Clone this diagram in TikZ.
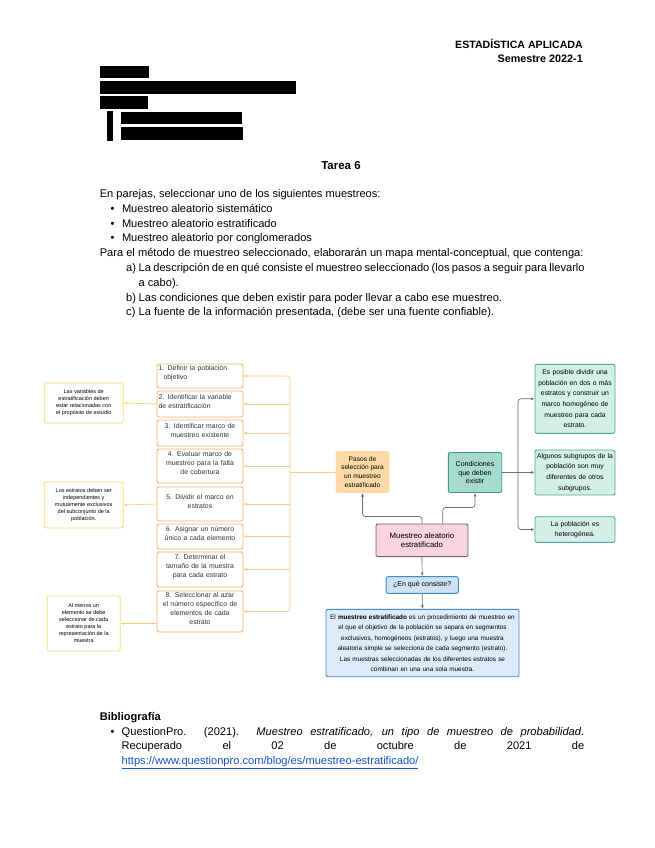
\documentclass[tikz,border=0pt]{standalone}
\usepackage{fontspec}
\setmainfont{Liberation Sans}
\usetikzlibrary{arrows.meta}

\definecolor{stepline}{HTML}{F6B26B}
\definecolor{steplink}{HTML}{F9C98E}
\definecolor{notebord}{HTML}{FFD966}
\definecolor{notelink}{HTML}{F8CF78}
\definecolor{pasosfill}{HTML}{FDDAA5}
\definecolor{pinkfill}{HTML}{F9D3DE}
\definecolor{pinkbord}{HTML}{666666}
\definecolor{condfill}{HTML}{A5DBCD}
\definecolor{condbord}{HTML}{3E9C84}
\definecolor{rfill}{HTML}{D3EFE8}
\definecolor{rbord}{HTML}{4FAA92}
\definecolor{enqfill}{HTML}{CFE2F3}
\definecolor{descfill}{HTML}{DDEBF8}
\definecolor{bluebord}{HTML}{3D8BD0}
\definecolor{graylink}{HTML}{6E6E6E}
\definecolor{linkblue}{HTML}{1155CC}
\definecolor{boxtext}{HTML}{333333}

\newcommand{\fsz}[2]{\fontsize{#1}{#2}\selectfont}

\begin{document}
\begin{tikzpicture}[x=1pt, y=-1pt,
        bodytxt/.style={inner sep=0pt, font=\fsz{11.1}{14.8}},
        stepC/.style={draw=stepline, fill=white, line width=0.9pt, rounded corners=2pt,
          minimum width=86, text width=83, align=center, inner sep=1pt,
          text=boxtext, font=\fsz{6.9}{9}},
        stepL/.style={stepC, align=left},
        notebox/.style={draw=notebord, fill=white, line width=0.9pt, rounded corners=2pt,
          align=center, inner sep=1pt, font=\fsz{5.5}{7}},
        rbox/.style={draw=rbord, fill=rfill, line width=0.9pt, rounded corners=2pt,
          minimum width=80, text width=78, align=center, inner sep=1pt, font=\fsz{6.8}{10.6}},
        olink/.style={draw=steplink, line width=0.7pt},
        ylink/.style={draw=notelink, line width=0.7pt},
        glink/.style={draw=graylink, line width=0.7pt},
        >={Latex[length=3.5pt,width=3pt]}
        ]
        \useasboundingbox (0,0) rectangle (655,848);
        \fill[white] (0,0) rectangle (655,848);

        % header
        \node[anchor=base east, inner sep=0pt, font=\fsz{10.6}{12}\bfseries] (curso) at (583,48.5) {ESTADÍSTICA APLICADA};
        \node[anchor=base east, inner sep=0pt, font=\fsz{10.8}{12}\bfseries] (sem) at (583,62.5) {Semestre 2022-1};

        % hidden names
        \fill (99.6,66) rectangle (148.6,78.3);
        \fill (99.6,81) rectangle (296.4,94);
        \fill (99.6,96.3) rectangle (147.5,109.3);
        \fill (106.8,111) rectangle (113,141);
        \fill (121,112.3) rectangle (241.8,124);
        \fill (121,127) rectangle (243.2,140.3);

        \node[bodytxt, anchor=base, font=\fsz{11.5}{14.8}\bfseries] (tarea) at (341,169) {Tarea 6};

        \node[bodytxt, anchor=base west] (intro) at (99.6,197.5) {En parejas, seleccionar uno de los siguientes muestreos:};
        \foreach \k/\t in {0/{Muestreo aleatorio sistemático},1/{Muestreo aleatorio estratificado},2/{Muestreo aleatorio por conglomerados}} {
          \node[bodytxt, anchor=base] (dot\k) at (112.5,212.3+14.8*\k) {\textbullet};
          \node[bodytxt, anchor=base west] (m\k) at (121.8,212.3+14.8*\k) {\t};
        }
        \node[bodytxt, anchor=base west] (para) at (99.6,256.7) {Para el método de muestreo seleccionado, elaborarán un mapa mental-conceptual, que contenga:};
        \node[bodytxt, anchor=base west] (la) at (126,271.5) {a)};
        \node[bodytxt, anchor=base west] (ta) at (138.5,271.5) {\makebox[446pt][s]{La descripción de en qué consiste el muestreo seleccionado (los pasos a seguir para llevarlo}};
        \node[bodytxt, anchor=base west] (ta2) at (138.5,286.3) {a cabo).};
        \node[bodytxt, anchor=base west] (lb) at (126,301.1) {b)};
        \node[bodytxt, anchor=base west] (tb) at (138.5,301.1) {Las condiciones que deben existir para poder llevar a cabo ese muestreo.};
        \node[bodytxt, anchor=base west] (lc) at (126,315.9) {c)};
        \node[bodytxt, anchor=base west] (tc) at (138.5,315.9) {La fuente de la información presentada, (debe ser una fuente confiable).};

        % pasos
        \foreach \n/\yc/\ht/\sty/\txt in {
            1/376/24/L/{1. Definir la población\\\hspace*{5pt}objetivo},
            2/404/26/L/{2. Identificar la variable\\de estratificación},
            3/433/26/C/{3. Identificar marco de\\muestreo existente},
            4/466/34/C/{4. Evaluar marco de\\muestreo para la falta\\de cobertura},
            5/504/34/C/{5. Dividir el marco en\\estratos},
            6/536.5/25/C/{6. Asignar un número\\único a cada elemento},
            7/569.5/35/C/{7. Determinar el\\tamaño de la muestra\\para cada estrato},
            8/611.5/41/C/{8. Seleccionar al azar\\el número específico de\\elementos de cada\\estrato}} {
          \node[step\sty, minimum height=\ht] (s\n) at (200,\yc) {\txt};
        }

        \node[notebox, minimum width=79, minimum height=40] (notaA) at (83.7,403) {Las variables de\\estratificación deben\\estar relacionadas con\\el propósito de estudio};
        \node[notebox, minimum width=79, minimum height=46] (notaB) at (83.7,505) {Los estratos deben ser\\independientes y\\mutuamente exclusivos\\del subconjunto de la\\población.};
        \node[notebox, minimum width=73, minimum height=55] (notaC) at (83.7,623.5) {Al menos un\\elemento se debe\\seleccionar de cada\\estrato para la\\representación de la\\muestra};

        \node[fill=pasosfill, rounded corners=2pt, minimum width=53.6, minimum height=41.7, align=center, inner sep=1pt, font=\fsz{6.6}{8.8}] (pasos) at (362.5,472) {Pasos de\\selección para\\un muestreo\\estratificado};
        \node[draw=pinkbord, fill=pinkfill, line width=0.9pt, rounded corners=2pt, minimum width=92, minimum height=32.7, align=center, inner sep=1pt, font=\fsz{7.8}{9}] (pink) at (422,540.3) {Muestreo aleatorio\\estratificado};
        \node[draw=condbord, fill=condfill, line width=0.9pt, rounded corners=2pt, minimum width=53.4, minimum height=40, align=center, inner sep=1pt, font=\fsz{7}{8.8}] (cond) at (475,472.5) {Condiciones\\que deben\\existir};

        \node[rbox, minimum height=69] (r1) at (575,398.8) {Es posible dividir una\\población en dos o más\\estratos y construir un\\marco homogéneo de\\muestreo para cada\\estrato.};
        \node[rbox, minimum height=45] (r2) at (575,472.5) {Algunos subgrupos de la\\población son muy\\diferentes de otros\\subgrupos.};
        \node[rbox, minimum height=25.6] (r3) at (575,529.5) {La población es\\heterogénea.};

        \node[draw=bluebord, fill=enqfill, line width=0.9pt, rounded corners=2pt, minimum width=72.3, minimum height=16.7, inner sep=1pt, font=\fsz{7}{8}] (enq) at (422.2,585) {¿En qué consiste?};
        \node[draw=bluebord, fill=descfill, line width=0.9pt, rounded corners=2pt, minimum width=193, minimum height=67.4, text width=191, align=center, inner sep=1pt, font=\fsz{6.4}{10.5}] (desc) at (422.5,643) {El \textbf{muestreo estratificado} es un procedimiento de muestreo en\\el que el objetivo de la población se separa en segmentos\\exclusivos, homogéneos (estratos), y luego una muestra\\aleatoria simple se selecciona de cada segmento (estrato).\\Las muestras seleccionadas de los diferentes estratos se\\combinan en una una sola muestra.};

        % conectores
        \coordinate (tk) at (290,472);
        \draw[olink] (pasos.west) -- (tk);
        \draw[olink, <->, rounded corners=3pt] (s1.east) -| (tk) |- (s8.east);
        \foreach \n in {2,...,7}
          \draw[olink, ->] (tk |- s\n.east) -- (s\n.east);

        \draw[ylink, ->] (s2.west) -- (notaA.east);
        \draw[ylink, ->] (s5.west) -- (notaB.east);
        \draw[ylink, ->] (s8.west |- notaC.east) -- (notaC.east);

        \draw[glink, ->, rounded corners=3pt] (pink.north) -- ++(0,-7) -| (pasos.south);
        \draw[glink, ->, rounded corners=3pt] ([xshift=20.7pt]pink.north) -- ++(0,-16) -| (cond.south);
        \draw[glink, ->] (pink.south) -- (enq.north);
        \draw[glink, ->] (enq.south) -- (desc.north);

        \coordinate (rk) at (518,472.5);
        \draw[glink] (cond.east) -- (rk);
        \draw[glink, <->, rounded corners=3pt] (r1.west) -| (rk) |- (r3.west);
        \draw[glink, ->] (rk) -- (r2.west);

        % bibliografia
        \node[bodytxt, anchor=base west, font=\fsz{11.1}{14.8}\bfseries] (bib) at (99.6,720) {Bibliografía};
        \node[bodytxt, anchor=base] (bdot) at (112.5,735) {\textbullet};
        \node[bodytxt, anchor=base west] (ref1) at (121.5,735) {\makebox[462.5pt][s]{QuestionPro. (2021). \textit{Muestreo estratificado, un tipo de muestreo de probabilidad}.}};
        \node[bodytxt, anchor=base west] (ref2) at (121.5,749.5) {\makebox[462.5pt][s]{Recuperado el 02 de octubre de 2021 de}};
        \node[bodytxt, anchor=base west, text=linkblue] (url) at (121.5,764) {\underline{https://www.questionpro.com/blog/es/muestreo-estratificado/}};
      \end{tikzpicture}
\end{document}
